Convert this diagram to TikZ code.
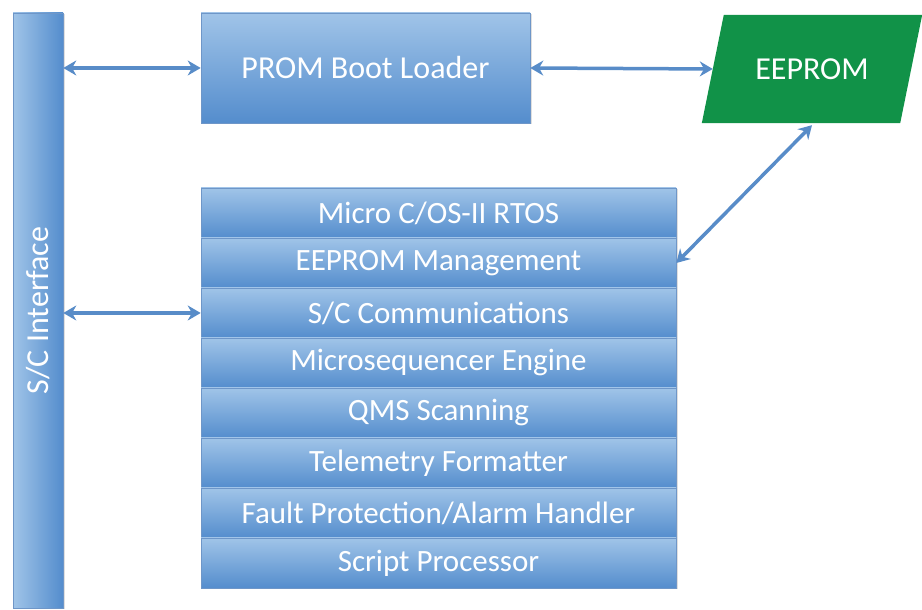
\documentclass[tikz,border=0pt]{standalone}
\usepackage{fontspec}
\setmainfont{Carlito}
\usetikzlibrary{arrows.meta,shadows}
\definecolor{boxtop}{RGB}{160,196,232}
\definecolor{boxbot}{RGB}{84,141,205}
\definecolor{boxline}{RGB}{110,150,200}
\definecolor{linkblue}{RGB}{88,140,200}
\definecolor{eegreen}{RGB}{17,146,72}
\tikzset{
  layerbox/.style={rectangle, draw=boxline, line width=0.6pt, top color=boxtop, bottom color=boxbot,
    minimum width=475pt, minimum height=50pt, inner sep=0pt, text=white,
    font=\fontsize{31}{34}\selectfont, drop shadow={opacity=0.25, shadow xshift=1.5pt, shadow yshift=-1.5pt}},
  link/.style={draw=linkblue, line width=3.5pt, {Stealth[length=13pt,width=15pt]}-{Stealth[length=13pt,width=15pt]}}
}
\begin{document}
\begin{tikzpicture}[x=1pt,y=1pt]
\useasboundingbox (0,0) rectangle (922,610);
% interface bar
\node (bar) [rectangle, draw=boxline, line width=0.6pt, left color=boxtop, right color=boxbot,
  minimum width=50pt, minimum height=595pt, inner sep=0pt,
  drop shadow={opacity=0.25, shadow xshift=1.5pt, shadow yshift=-1.5pt}] at (38,299.5) {};
\node [rotate=90, text=white, font=\fontsize{32}{34}\selectfont] at (bar.center) {S/C Interface};
% boot loader and eeprom
\node (prom) [layerbox, minimum width=329pt, minimum height=110pt, font=\fontsize{32}{36}\selectfont] at (365.5,542) {PROM Boot Loader};
\node (eeprom) [rectangle, minimum width=198pt, minimum height=108pt, inner sep=0pt] at (812,541) {};
\fill [eegreen] ([xshift=-11pt]eeprom.south west) -- ([xshift=-11pt]eeprom.south east)
  -- ([xshift=11pt]eeprom.north east) -- ([xshift=11pt]eeprom.north west) -- cycle;
\node [text=white, font=\fontsize{32}{36}\selectfont] at (eeprom.center) {EEPROM};
% software stack
\node (rtos) [layerbox] at (438.5,397) {Micro C/OS-II RTOS};
\node (mgmt) [layerbox] at (438.5,347) {EEPROM Management};
\node (comm) [layerbox] at (438.5,297) {S/C Communications};
\node (mseq) [layerbox] at (438.5,247) {Microsequencer Engine};
\node (qms)  [layerbox] at (438.5,197) {QMS Scanning};
\node (tlm)  [layerbox] at (438.5,147) {Telemetry Formatter};
\node (fault) [layerbox] at (438.5,97) {Fault Protection/Alarm Handler};
\node (script) [layerbox] at (438.5,47) {Script Processor};
% links
\draw [link] (bar.east |- prom.west) -- (prom.west);
\draw [link] (prom.east) -- (eeprom.west);
\draw [link] ([yshift=-2pt]eeprom.south) -- (mgmt.east);
\draw [link] (bar.east |- comm.west) -- (comm.west);
\end{tikzpicture}
\end{document}
